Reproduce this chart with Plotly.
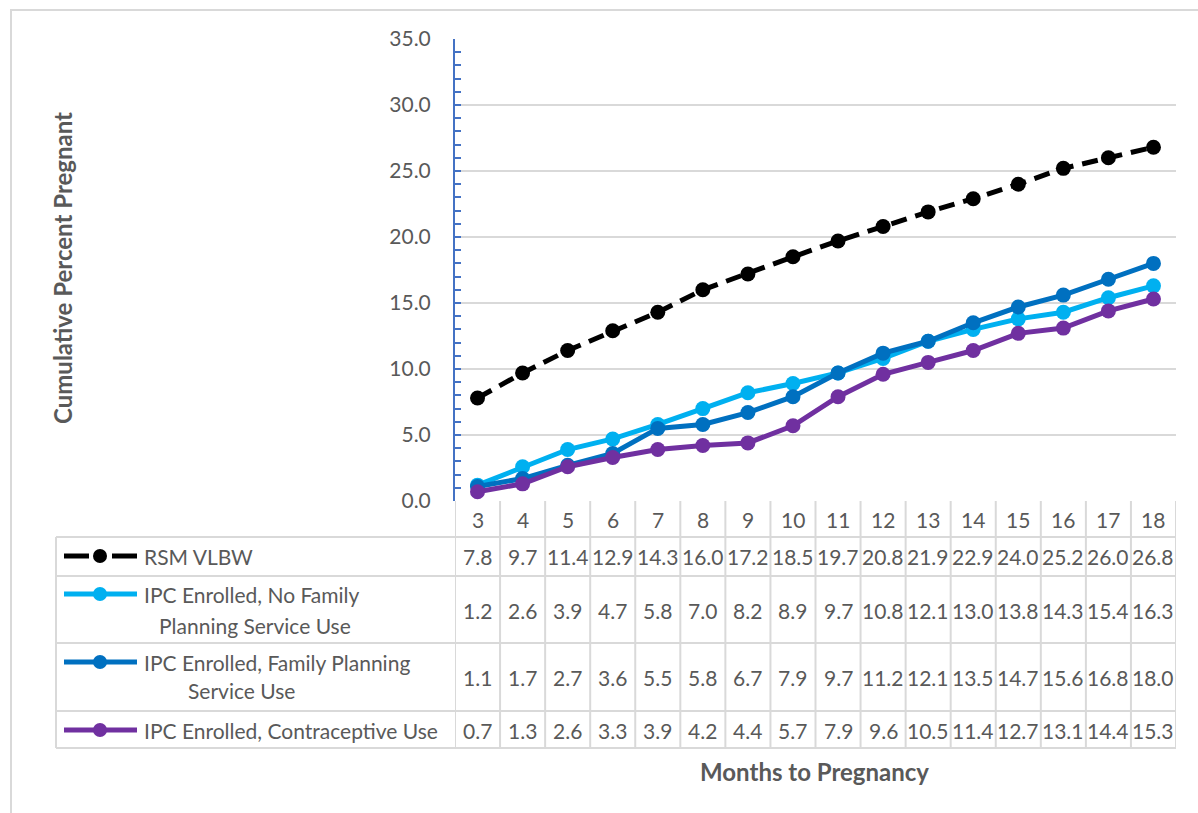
import plotly.graph_objects as go

# Months after the index birth
months = [3, 4, 5, 6, 7, 8, 9, 10, 11, 12, 13, 14, 15, 16, 17, 18]

# Cumulative percent pregnant by group
rsm_vlbw = [7.8, 9.7, 11.4, 12.9, 14.3, 16.0, 17.2, 18.5, 19.7, 20.8, 21.9, 22.9, 24.0, 25.2, 26.0, 26.8]
ipc_no_fp = [1.2, 2.6, 3.9, 4.7, 5.8, 7.0, 8.2, 8.9, 9.7, 10.8, 12.1, 13.0, 13.8, 14.3, 15.4, 16.3]
ipc_fp = [1.1, 1.7, 2.7, 3.6, 5.5, 5.8, 6.7, 7.9, 9.7, 11.2, 12.1, 13.5, 14.7, 15.6, 16.8, 18.0]
ipc_contra = [0.7, 1.3, 2.6, 3.3, 3.9, 4.2, 4.4, 5.7, 7.9, 9.6, 10.5, 11.4, 12.7, 13.1, 14.4, 15.3]

series_names = ["RSM VLBW",
                "IPC Enrolled, No Family Planning Service Use",
                "IPC Enrolled, Family Planning Service Use",
                "IPC Enrolled, Contraceptive Use"]
series_values = [rsm_vlbw, ipc_no_fp, ipc_fp, ipc_contra]
series_colors = ["#000000", "#00B0F0", "#0070C0", "#7030A0"]
series_dash = ["16px,9px", "solid", "solid", "solid"]

W, H = 1198, 813
FONT = "Lato"
TXT = "#595959"
GRID = "#D9D9D9"
FS = 21


def px(x):
    return x / W


def py(y):
    return 1 - y / H


# plot area in pixels
PL, PR, PT, PB = 455, 1176, 39, 501

fig = go.Figure()
for name, vals, col, dash in zip(series_names, series_values, series_colors, series_dash):
    fig.add_trace(go.Scatter(
        x=months, y=vals, name=name, mode="lines+markers",
        line=dict(color=col, width=5, dash=dash),
        marker=dict(color=col, size=15),
        showlegend=False, cliponaxis=False,
    ))

shapes = []
annotations = []


def label(text, x, y, xref="paper", xanchor="center", size=FS, angle=0):
    annotations.append(dict(x=x, y=y, xref=xref, yref="paper", text=text,
                            xanchor=xanchor, yanchor="middle", textangle=angle,
                            showarrow=False, font=dict(family=FONT, size=size, color=TXT)))


# outer chart border
shapes.append(dict(type="rect", xref="paper", yref="paper",
                   x0=px(11), x1=px(1205), y0=py(822), y1=py(10),
                   line=dict(color=GRID, width=2), layer="below"))

# data table grid
row_lines = [537, 576, 643, 711, 748]
for yy in row_lines:
    shapes.append(dict(type="line", xref="paper", yref="paper",
                       x0=px(56), x1=px(PR), y0=py(yy), y1=py(yy),
                       line=dict(color=GRID, width=2)))
shapes.append(dict(type="line", xref="paper", yref="paper",
                   x0=px(56), x1=px(56), y0=py(537), y1=py(748),
                   line=dict(color=GRID, width=2)))
for k in range(len(months) + 1):
    xb = months[0] - 0.5 + k
    shapes.append(dict(type="line", xref="x", yref="paper",
                       x0=xb, x1=xb, y0=py(PB), y1=py(748),
                       line=dict(color=GRID, width=2)))

# header row: month labels
for m in months:
    label(str(m), m, py(519), xref="x")

# value rows
row_centers = [556, 610, 677, 730]
for vals, yc in zip(series_values, row_centers):
    for m, v in zip(months, vals):
        label(f"{v:.1f}", m, py(yc), xref="x")

# legend keys in the table
key_rows = [556, 594, 662, 730]
for col, dash, yk in zip(series_colors, ["dash", "solid", "solid", "solid"], key_rows):
    if dash == "dash":
        for a, b in [(64, 89), (112, 137)]:
            shapes.append(dict(type="line", xref="paper", yref="paper",
                               x0=px(a), x1=px(b), y0=py(yk), y1=py(yk),
                               line=dict(color=col, width=5)))
    else:
        shapes.append(dict(type="line", xref="paper", yref="paper",
                           x0=px(64), x1=px(137), y0=py(yk), y1=py(yk),
                           line=dict(color=col, width=5)))
    shapes.append(dict(type="circle", xref="paper", yref="paper",
                       x0=px(93), x1=px(107), y0=py(yk + 7), y1=py(yk - 7),
                       fillcolor=col, line=dict(color=col, width=0)))

legend_text = [
    ("RSM VLBW", 142, 556, "left"),
    ("IPC Enrolled, No Family", 142, 594, "left"),
    ("Planning Service Use", 255, 625, "center"),
    ("IPC Enrolled, Family Planning", 142, 662, "left"),
    ("Service Use", 241, 690, "center"),
    ("IPC Enrolled, Contraceptive Use", 142, 730, "left"),
]
for t, xx, yy, anc in legend_text:
    label(t, px(xx), py(yy), xanchor=anc)

# axis titles
label("<b>Cumulative Percent Pregnant</b>", px(62), py(268), size=24, angle=-90)
label("<b>Months to Pregnancy</b>", px(815), py(771), size=24)

fig.update_layout(
    template="none",
    width=W, height=H,
    margin=dict(l=0, r=0, t=0, b=0, pad=0),
    paper_bgcolor="white", plot_bgcolor="white",
    shapes=shapes, annotations=annotations,
    xaxis=dict(domain=[px(PL), px(PR)], range=[2.5, 18.5], automargin=False,
               showgrid=False, zeroline=False, showline=False,
               showticklabels=False, ticks=""),
    yaxis=dict(domain=[py(PB), py(PT)], range=[0, 35], dtick=5, tickformat=".1f",
               automargin=False,
               showgrid=True, gridcolor=GRID, gridwidth=2, zeroline=False,
               showline=True, linecolor="#4472C4", linewidth=2,
               ticks="inside", ticklen=6, tickwidth=2, tickcolor="#4472C4",
               ticklabelstandoff=18,
               minor=dict(dtick=1, ticks="inside", ticklen=6, tickwidth=2,
                          tickcolor="#4472C4", showgrid=False),
               tickfont=dict(family=FONT, size=FS, color=TXT)),
    font=dict(family=FONT, color=TXT),
)

fig.write_html("out.html")
